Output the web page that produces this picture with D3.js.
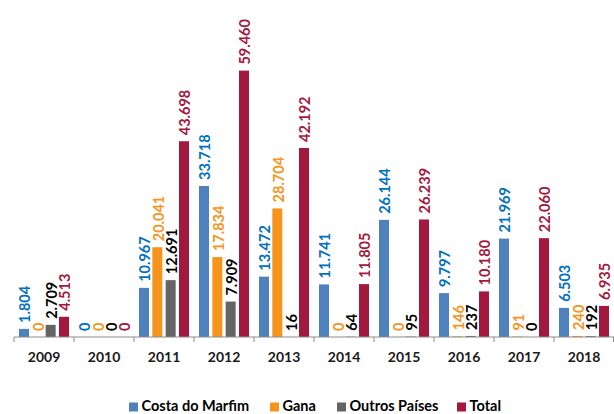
<!DOCTYPE html>
<html>
<head>
<meta charset="utf-8">
<script src="https://cdn.jsdelivr.net/npm/d3@7"></script>
<style>
  html, body { margin: 0; padding: 0; background: #ffffff; }
  svg { display: block; }
  text { font-family: Lato, "Open Sans", sans-serif; font-weight: bold; }
</style>
</head>
<body>
<svg id="chart" width="614" height="414"></svg>
<script>
// Exportações por origem, 2009–2018
const years = ["2009", "2010", "2011", "2012", "2013", "2014", "2015", "2016", "2017", "2018"];
const seriesNames = ["Costa do Marfim", "Gana", "Outros Países", "Total"];
const costaDoMarfim = [1804, 0, 10967, 33718, 13472, 11741, 26144, 9797, 21969, 6503];
const gana          = [0, 0, 20041, 17834, 28704, 0, 0, 146, 91, 240];
const outrosPaises  = [2709, 0, 12691, 7909, 16, 64, 95, 237, 0, 192];
const total         = [4513, 0, 43698, 59460, 42192, 11805, 26239, 10180, 22060, 6935];

const seriesValues = [costaDoMarfim, gana, outrosPaises, total];
const barColors   = ["#4F81BD", "#F7941D", "#646464", "#A3193D"];
const labelColors = ["#0070C0", "#F7941D", "#000000", "#A3193D"];

const svg = d3.select("#chart");

const x = d3.scaleBand().domain(years).range([14, 614]).padding(0);
const xInner = d3.scaleBand().domain(seriesNames)
  .range([5, x.bandwidth() - 5]).paddingInner(0.25).paddingOuter(0);
const y = d3.scaleLinear().domain([0, 70000]).range([337, 23.4]);

const fmt = d3.formatLocale({ decimal: ",", thousands: ".", grouping: [3], currency: ["R$", ""] }).format(",");

const rows = years.map((yr, i) => ({
  year: yr,
  items: seriesNames.map((s, k) => ({ series: s, k, value: seriesValues[k][i] }))
}));

const groups = svg.append("g").selectAll("g")
  .data(rows).join("g")
  .attr("transform", d => `translate(${x(d.year)},0)`);

groups.selectAll("rect")
  .data(d => d.items).join("rect")
  .attr("x", d => xInner(d.series))
  .attr("y", d => y(d.value))
  .attr("width", xInner.bandwidth())
  .attr("height", d => y(0) - y(d.value))
  .attr("fill", d => barColors[d.k]);

groups.selectAll("text")
  .data(d => d.items).join("text")
  .attr("transform", d => `translate(${xInner(d.series) + xInner.bandwidth() / 2 + 1},${y(d.value) - 6}) rotate(-90)`)
  .attr("dy", "0.36em")
  .attr("font-size", 14.5)
  .attr("fill", d => labelColors[d.k])
  .text(d => fmt(d.value));

// category axis: baseline with ticks at the band boundaries
const axis = svg.append("g").attr("transform", `translate(0,${y(0)})`);
axis.append("line")
  .attr("x1", x.range()[0]).attr("x2", x.range()[1])
  .attr("stroke", "#8c8c8c").attr("stroke-width", 1);
const boundaries = years.map(yr => x(yr)).concat([x.range()[1] - 0.5]);
axis.selectAll("line.tick")
  .data(boundaries).join("line")
  .attr("class", "tick")
  .attr("x1", d => d).attr("x2", d => d)
  .attr("y1", 0).attr("y2", 5)
  .attr("stroke", "#8c8c8c").attr("stroke-width", 1);

const xAxis = d3.axisBottom(x).tickSize(0).tickPadding(0);
const axisLabels = svg.append("g").attr("transform", `translate(0,362)`).call(xAxis);
axisLabels.select(".domain").remove();
axisLabels.selectAll("text")
  .attr("dy", 0)
  .attr("font-size", 14)
  .attr("font-family", "Lato, sans-serif")
  .attr("font-weight", "bold")
  .attr("fill", "#1a1a1a");

// legend
const legendX = [129, 270, 337, 457];
const legend = svg.append("g").selectAll("g")
  .data(seriesNames).join("g")
  .attr("transform", (d, i) => `translate(${legendX[i]},402.5)`);
legend.append("rect").attr("width", 9).attr("height", 9)
  .attr("fill", (d, i) => barColors[i]);
legend.append("text")
  .attr("x", 12.5).attr("y", 8.5)
  .attr("font-size", 14.5)
  .attr("fill", "#000")
  .text(d => d);
</script>
</body>
</html>
